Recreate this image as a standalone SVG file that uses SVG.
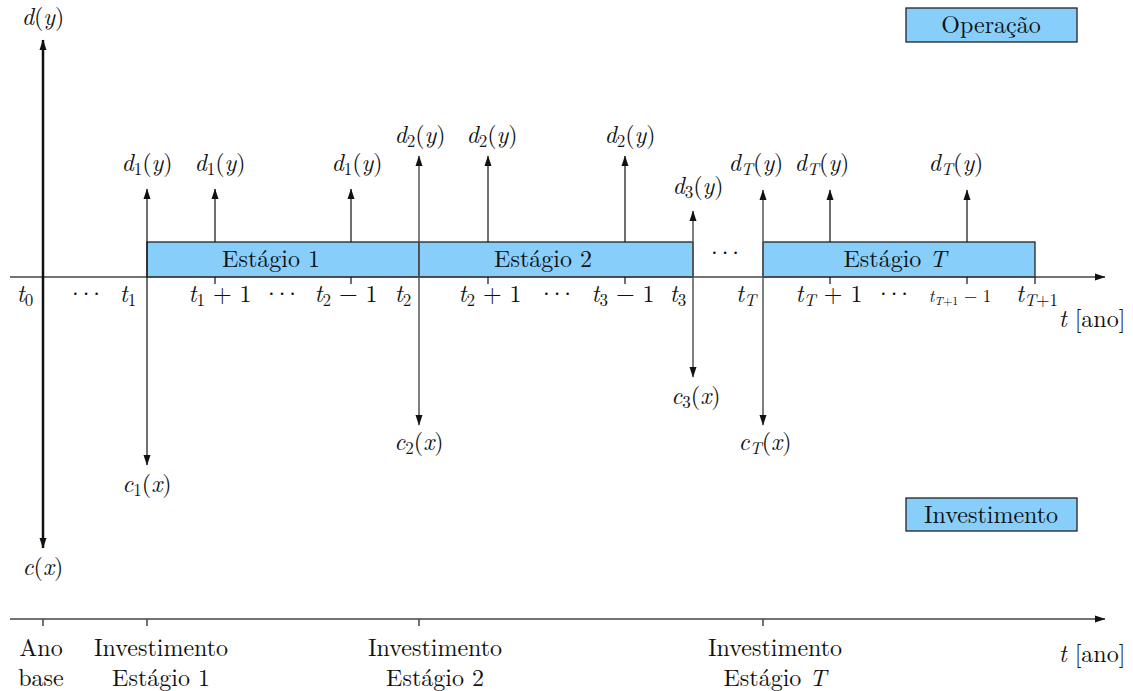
<svg xmlns="http://www.w3.org/2000/svg" width="1133" height="691" viewBox="0 0 1133 691" font-family="Latin Modern Roman, Liberation Serif, serif">
<style>
.m{font-size:24px;text-anchor:middle;fill:#111}
.i{font-style:italic}
.s{font-size:17px}
.dots{letter-spacing:-8px}
.box{fill:#87cefa;stroke:#222;stroke-width:1.3}
.ax{stroke:#444;stroke-width:1.5;fill:none}
.ar{stroke:#111;stroke-width:1.2;fill:none}
.lv{stroke:#555;stroke-width:1.5;fill:none}
.big{stroke:#111;stroke-width:2.5;fill:none}
</style>
<defs>
<marker id="ah" markerUnits="userSpaceOnUse" markerWidth="11" markerHeight="8" refX="10" refY="4" orient="auto-start-reverse" viewBox="0 0 11 8">
<path d="M0,0.5 L10.5,4 L0,7.5 z" fill="#111"/>
</marker>
</defs>
<rect width="1133" height="691" fill="#fff"/>

<g id="stage1"><rect class="box" x="147" y="242" width="272" height="35"/><text class="m" x="271" y="267">Estágio 1</text></g>
<g id="stage2"><rect class="box" x="419" y="242" width="274" height="35"/><text class="m" x="543" y="267">Estágio 2</text></g>
<g id="stageT"><rect class="box" x="763" y="242" width="272" height="35"/><text class="m" x="895" y="267">Estágio <tspan class="i">T</tspan></text></g>
<g id="legend-op"><rect class="box" x="906" y="8" width="171" height="34"/><text class="m" x="991" y="33">Operação</text></g>
<g id="legend-inv"><rect class="box" x="906" y="498" width="171" height="33"/><text class="m" x="991" y="523">Investimento</text></g>

<g id="connectors">
<line class="ax" x1="10" y1="277" x2="1105" y2="277" marker-end="url(#ah)"/>
<line class="ax" x1="10" y1="619" x2="1105" y2="619" marker-end="url(#ah)"/>
<line class="big" x1="43" y1="548" x2="43" y2="40" marker-start="url(#ah)" marker-end="url(#ah)"/>
<line class="ar" x1="147" y1="465" x2="147" y2="189" marker-start="url(#ah)" marker-end="url(#ah)"/>
<line class="ar" x1="215" y1="242" x2="215" y2="189" marker-end="url(#ah)"/>
<line class="ar" x1="351" y1="242" x2="351" y2="189" marker-end="url(#ah)"/>
<line class="lv" x1="419" y1="425" x2="419" y2="156" marker-start="url(#ah)" marker-end="url(#ah)"/>
<line class="ar" x1="488" y1="242" x2="488" y2="156" marker-end="url(#ah)"/>
<line class="ar" x1="625" y1="242" x2="625" y2="156" marker-end="url(#ah)"/>
<line class="lv" x1="693" y1="377" x2="693" y2="211" marker-start="url(#ah)" marker-end="url(#ah)"/>
<line class="lv" x1="763" y1="425" x2="763" y2="190" marker-start="url(#ah)" marker-end="url(#ah)"/>
<line class="ar" x1="830" y1="242" x2="830" y2="190" marker-end="url(#ah)"/>
<line class="ar" x1="967" y1="242" x2="967" y2="190" marker-end="url(#ah)"/>
<line class="ar" x1="215" y1="277" x2="215" y2="284"/>
<line class="ar" x1="351" y1="277" x2="351" y2="284"/>
<line class="ar" x1="488" y1="277" x2="488" y2="284"/>
<line class="ar" x1="625" y1="277" x2="625" y2="284"/>
<line class="ar" x1="830" y1="277" x2="830" y2="284"/>
<line class="ar" x1="967" y1="277" x2="967" y2="284"/>
<line class="ar" x1="1035" y1="277" x2="1035" y2="284"/>
<line class="ax" x1="43" y1="619" x2="43" y2="626"/>
<line class="ax" x1="147" y1="619" x2="147" y2="626"/>
<line class="ax" x1="419" y1="619" x2="419" y2="626"/>
<line class="ax" x1="763" y1="619" x2="763" y2="626"/>
</g>

<g id="labels">
<text class="m" x="43" y="25"><tspan class="i">d</tspan>(<tspan class="i">y</tspan>)</text>
<text class="m" x="43" y="575"><tspan class="i">c</tspan>(<tspan class="i">x</tspan>)</text>

<text class="m" x="147" y="171"><tspan class="i">d</tspan><tspan class="s" dy="4">1</tspan><tspan dy="-4">(</tspan><tspan class="i">y</tspan>)</text>
<text class="m" x="220" y="171"><tspan class="i">d</tspan><tspan class="s" dy="4">1</tspan><tspan dy="-4">(</tspan><tspan class="i">y</tspan>)</text>
<text class="m" x="357" y="171"><tspan class="i">d</tspan><tspan class="s" dy="4">1</tspan><tspan dy="-4">(</tspan><tspan class="i">y</tspan>)</text>
<text class="m" x="420" y="143"><tspan class="i">d</tspan><tspan class="s" dy="4">2</tspan><tspan dy="-4">(</tspan><tspan class="i">y</tspan>)</text>
<text class="m" x="492" y="143"><tspan class="i">d</tspan><tspan class="s" dy="4">2</tspan><tspan dy="-4">(</tspan><tspan class="i">y</tspan>)</text>
<text class="m" x="630" y="143"><tspan class="i">d</tspan><tspan class="s" dy="4">2</tspan><tspan dy="-4">(</tspan><tspan class="i">y</tspan>)</text>
<text class="m" x="698" y="194"><tspan class="i">d</tspan><tspan class="s" dy="4">3</tspan><tspan dy="-4">(</tspan><tspan class="i">y</tspan>)</text>
<text class="m" x="756" y="171"><tspan class="i">d</tspan><tspan class="s i" dy="4">T</tspan><tspan dy="-4">(</tspan><tspan class="i">y</tspan>)</text>
<text class="m" x="822" y="171"><tspan class="i">d</tspan><tspan class="s i" dy="4">T</tspan><tspan dy="-4">(</tspan><tspan class="i">y</tspan>)</text>
<text class="m" x="956" y="171"><tspan class="i">d</tspan><tspan class="s i" dy="4">T</tspan><tspan dy="-4">(</tspan><tspan class="i">y</tspan>)</text>

<text class="m" x="147" y="492"><tspan class="i">c</tspan><tspan class="s" dy="4">1</tspan><tspan dy="-4">(</tspan><tspan class="i">x</tspan>)</text>
<text class="m" x="419" y="450"><tspan class="i">c</tspan><tspan class="s" dy="4">2</tspan><tspan dy="-4">(</tspan><tspan class="i">x</tspan>)</text>
<text class="m" x="696" y="404"><tspan class="i">c</tspan><tspan class="s" dy="4">3</tspan><tspan dy="-4">(</tspan><tspan class="i">x</tspan>)</text>
<text class="m" x="765" y="450"><tspan class="i">c</tspan><tspan class="s i" dy="4">T</tspan><tspan dy="-4">(</tspan><tspan class="i">x</tspan>)</text>

<text class="m" x="25" y="302"><tspan class="i">t</tspan><tspan class="s" dy="4">0</tspan></text>
<text class="m dots" x="82" y="302">···</text>
<text class="m" x="128" y="302"><tspan class="i">t</tspan><tspan class="s" dy="4">1</tspan></text>
<text class="m" x="220" y="302"><tspan class="i">t</tspan><tspan class="s" dy="4">1</tspan><tspan dy="-4"> + 1</tspan></text>
<text class="m dots" x="278" y="302">···</text>
<text class="m" x="346" y="302"><tspan class="i">t</tspan><tspan class="s" dy="4">2</tspan><tspan dy="-4"> − 1</tspan></text>
<text class="m" x="403" y="302"><tspan class="i">t</tspan><tspan class="s" dy="4">2</tspan></text>
<text class="m" x="490" y="302"><tspan class="i">t</tspan><tspan class="s" dy="4">2</tspan><tspan dy="-4"> + 1</tspan></text>
<text class="m dots" x="553" y="302">···</text>
<text class="m" x="623" y="302"><tspan class="i">t</tspan><tspan class="s" dy="4">3</tspan><tspan dy="-4"> − 1</tspan></text>
<text class="m" x="678" y="302"><tspan class="i">t</tspan><tspan class="s" dy="4">3</tspan></text>
<text class="m dots" x="721" y="261">···</text>
<text class="m" x="746" y="302"><tspan class="i">t</tspan><tspan class="s i" dy="4">T</tspan></text>
<text class="m" x="829" y="302"><tspan class="i">t</tspan><tspan class="s i" dy="4">T</tspan><tspan dy="-4"> + 1</tspan></text>
<text class="m dots" x="890" y="302">···</text>
<text class="m" x="960" y="302" style="font-size:17px"><tspan class="i">t</tspan><tspan dy="3" style="font-size:12px"><tspan class="i">T</tspan>+1</tspan><tspan dy="-3"> − 1</tspan></text>
<text class="m" x="1037" y="302"><tspan class="i">t</tspan><tspan class="s" dy="4"><tspan class="i">T</tspan>+1</tspan></text>
<text class="m" x="1092" y="327"><tspan class="i">t</tspan> [ano]</text>

<text class="m" x="41" y="656">Ano</text>
<text class="m" x="41" y="686">base</text>
<text class="m" x="161" y="656">Investimento</text>
<text class="m" x="161" y="686">Estágio 1</text>
<text class="m" x="435" y="656">Investimento</text>
<text class="m" x="435" y="686">Estágio 2</text>
<text class="m" x="775" y="656">Investimento</text>
<text class="m" x="775" y="686">Estágio <tspan class="i">T</tspan></text>
<text class="m" x="1092" y="662"><tspan class="i">t</tspan> [ano]</text>
</g>
</svg>
